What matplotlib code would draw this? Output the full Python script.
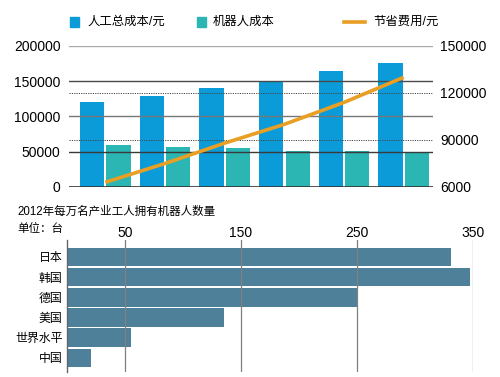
"""
Robot cost vs. labour cost, plus robot density per 10k industrial workers (2012).
"""

import matplotlib
matplotlib.use("Agg")
import matplotlib.pyplot as plt
from matplotlib.lines import Line2D
from matplotlib.patches import Rectangle

plt.rcParams["font.family"] = ["Liberation Sans", "Noto Sans CJK SC", "DejaVu Sans"]

# top chart data
labour_cost = [120000, 129000, 140000, 151000, 164000, 176500]
robot_cost = [59000, 57000, 55000, 51500, 51500, 49000]
savings = [63000, 75000, 88000, 100000, 114000, 130000]
left_ticks = [0, 50000, 100000, 150000, 200000]
right_ticks = [60000, 90000, 120000, 150000]
right_labels = ["6000", "90000", "120000", "150000"]

# bottom chart data
countries = ["日本", "韩国", "德国", "美国", "世界水平", "中国"]
robots_per_10k = [331, 347, 251, 135, 55, 21]
density_ticks = [50, 150, 250, 350]

BLUE = "#0b9bd9"
TEAL = "#2bb6b3"
ORANGE = "#e89f24"
STEEL = "#4e8099"


def main():
    fig = plt.figure(figsize=(5, 3.77), dpi=100)

    # --- top: grouped bars + savings line ---
    ax = fig.add_axes([0.138, 0.504, 0.728, 0.374])
    x = list(range(len(labour_cost)))
    w = 0.405
    ax.bar([i - 0.222 for i in x], labour_cost, width=w, color=BLUE, zorder=2)
    ax.bar([i + 0.222 for i in x], robot_cost, width=w, color=TEAL, zorder=2)
    ax.set_xlim(-0.608, 5.49)
    ax.set_ylim(0, 200000)
    ax.set_yticks(left_ticks)
    ax.set_yticklabels([str(v) for v in left_ticks], fontsize=10)
    ax.tick_params(axis="y", length=0, pad=6)
    ax.set_xticks([])
    for s in ax.spines.values():
        s.set_visible(False)
    grid_cols = {50000: "#3a3a3a", 100000: "#777777", 150000: "#4a4a4a", 200000: "#aaaaaa"}
    for v, c in grid_cols.items():
        ax.axhline(v, color=c, lw=1.0, zorder=3)
    ax.axhline(0, color="#333333", lw=1.2, zorder=3)

    ax2 = ax.twinx()
    ax2.set_ylim(60000, 150000)
    ax2.set_yticks(right_ticks)
    ax2.set_yticklabels(right_labels, fontsize=10)
    ax2.tick_params(axis="y", length=0, pad=5)
    for s in ax2.spines.values():
        s.set_visible(False)
    for v in [90000, 120000]:
        ax2.axhline(v, color="#444444", lw=0.7, ls=(0, (1.2, 1.2)), zorder=1)
    ax2.plot(x, savings, color=ORANGE, lw=2.6, solid_capstyle="butt", zorder=4)

    # legend drawn by hand to match the spacing
    yl = 1 - 22 / 377
    sq_w, sq_h = 9 / 500, 10 / 377
    fig.add_artist(Rectangle((70 / 500, yl - sq_h / 2), sq_w, sq_h,
                             transform=fig.transFigure, color=BLUE))
    fig.text(87 / 500, yl, "人工总成本/元", fontsize=8.9, va="center")
    fig.add_artist(Rectangle((196.5 / 500, yl - sq_h / 2), sq_w, sq_h,
                             transform=fig.transFigure, color=TEAL))
    fig.text(213 / 500, yl, "机器人成本", fontsize=8.9, va="center")
    fig.add_artist(Line2D([344 / 500, 365 / 500], [yl, yl], transform=fig.transFigure,
                          color=ORANGE, lw=2.6))
    fig.text(373 / 500, yl, "节省费用/元", fontsize=8.9, va="center")

    # --- bottom: robot density ---
    fig.text(17 / 500, 1 - 211.7 / 377, "2012年每万名产业工人拥有机器人数量",
             fontsize=8.3, va="center")
    fig.text(17 / 500, 1 - 229 / 377, "单位：台", fontsize=8.3, va="center")

    axb = fig.add_axes([0.1333, 0.0133, 0.8134, 0.35])
    yb = list(range(len(countries)))
    axb.barh(yb, robots_per_10k, height=0.92, color=STEEL, zorder=2)
    axb.set_xlim(0, 350)
    axb.set_ylim(5.7, -0.83)
    axb.set_xticks(density_ticks)
    axb.set_xticklabels([str(v) for v in density_ticks], fontsize=10)
    axb.tick_params(axis="x", top=True, labeltop=True, bottom=False,
                    labelbottom=False, length=0, pad=0)
    axb.set_yticks(yb)
    axb.set_yticklabels(countries, fontsize=8.6)
    axb.tick_params(axis="y", length=0, pad=3)
    for v in density_ticks:
        axb.axvline(v, color="#808080", lw=0.9, zorder=3)
    for name in ["top", "right", "bottom"]:
        axb.spines[name].set_visible(False)
    axb.spines["left"].set_color("#666666")
    axb.spines["left"].set_linewidth(1.0)

    fig.savefig("out.png", dpi=100)


if __name__ == "__main__":
    main()
